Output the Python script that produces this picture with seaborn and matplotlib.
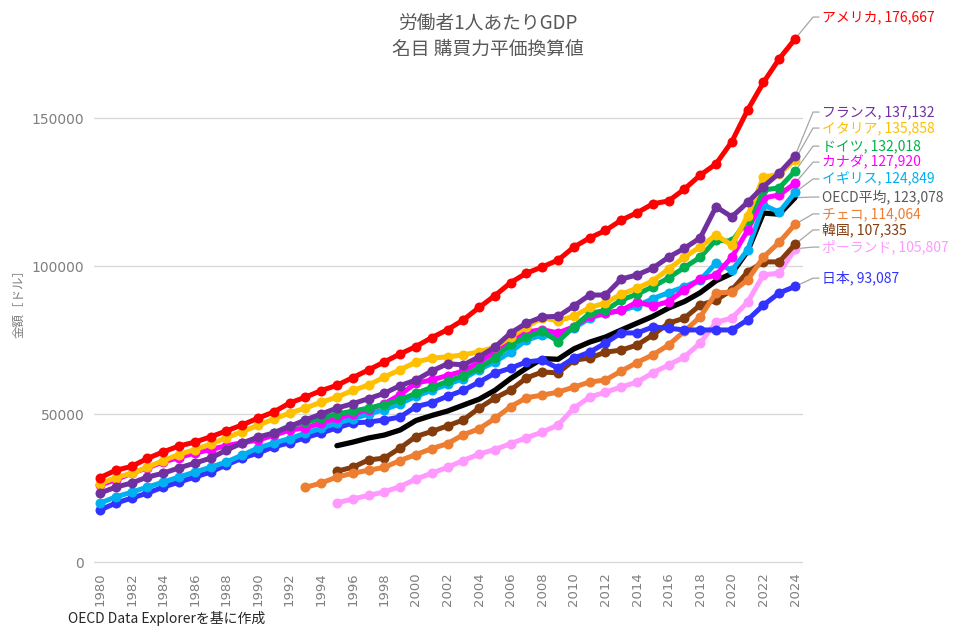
import matplotlib
matplotlib.use("Agg")
import matplotlib.pyplot as plt
import pandas as pd
import seaborn as sns

# ---------------- data ----------------
years_all = list(range(1980, 2025))
years_de = list(range(1991, 2025))
years_cz = list(range(1993, 2025))
years_95 = list(range(1995, 2025))

usa = [28500, 31000, 32300, 35000, 37200, 39200, 40500, 42300, 44300, 46300,
       48600, 50700, 53700, 55700, 57900, 59700, 62300, 64900, 67600, 70300,
       72800, 75800, 78500, 81800, 86000, 90000, 94400, 97600, 99700, 102000,
       106400, 109500, 112000, 115500, 118000, 121000, 122000, 126000, 130700, 134500,
       142000, 152700, 162000, 170000, 176667]
france = [23300, 25300, 26700, 28700, 30000, 31800, 33400, 35100, 37800, 40200,
          42200, 43600, 45800, 48000, 50000, 52000, 53500, 55200, 57000, 59600,
          61500, 64500, 67000, 66600, 69300, 72600, 77400, 80700, 82800, 83000,
          86500, 90200, 90200, 95600, 97000, 99300, 103000, 106000, 109500, 120000,
          116600, 121500, 126800, 131400, 137132]
italy = [26500, 28500, 30000, 32000, 34300, 36300, 38000, 39800, 42000, 44000,
         46200, 48300, 50300, 52000, 54000, 55700, 58000, 59800, 62500, 65000,
         67500, 68900, 69300, 70000, 71000, 72600, 76000, 79500, 82500, 81500,
         83000, 86000, 87500, 90500, 92500, 95000, 99000, 103000, 106500, 110500,
         107000, 117000, 130000, 131000, 135858]
germany = [43600, 46000, 47200, 48600, 50000, 51000, 52000, 53200, 54800, 57000,
           59000, 61000, 63000, 65500, 69000, 73500, 76000, 78000, 74500, 79500,
           84000, 85000, 88500, 90500, 93000, 96000, 99500, 103000, 108800, 108300,
           115500, 125700, 126400, 132018]
canada = [26000, 27800, 30000, 31800, 33800, 35300, 36800, 38000, 39300, 40300,
          41200, 42800, 44600, 45300, 47000, 48500, 50000, 51500, 53500, 56500,
          60500, 61500, 63000, 64500, 67500, 71000, 75000, 77700, 78500, 77400,
          79500, 83000, 84000, 85000, 87800, 86500, 88000, 92000, 95500, 97000,
          103000, 112000, 123000, 124000, 127920]
uk = [19900, 22000, 23600, 25300, 27000, 28700, 30400, 32000, 33800, 36100,
      38500, 40200, 41700, 43500, 45200, 47000, 48300, 50000, 51500, 53500,
      56000, 58000, 60000, 62000, 65000, 67600, 71000, 75000, 76700, 76000,
      79000, 82400, 84000, 85000, 86500, 89000, 91000, 93000, 95300, 101000,
      98600, 105400, 120600, 118200, 124849]
oecd = [39300, 40500, 41900, 42900, 44600, 47800, 49500, 51000, 53000, 55000,
        58000, 62000, 65500, 68700, 68500, 72000, 74300, 76000, 78400, 80700,
        83000, 85800, 88000, 91000, 95000, 97500, 105000, 117900, 117500, 123078]
czech = [25200, 26700, 28700, 30000, 31000, 32000, 34300, 36300, 38300, 40000,
         43000, 45000, 48500, 52500, 55500, 56400, 57400, 59100, 60800, 61500,
         64500, 67400, 70000, 73300, 78000, 82800, 90900, 91200, 95300, 103000,
         108000, 114064]
korea = [30700, 32000, 34500, 35100, 38500, 42400, 44100, 46000, 48000, 52000,
         55400, 58100, 62200, 64200, 63900, 68200, 68900, 70900, 71600, 73300,
         76700, 80700, 82400, 86800, 88500, 91900, 98000, 101400, 101400, 107335]
poland = [20000, 21300, 22500, 23700, 25500, 28000, 30000, 32000, 34300, 36500,
          38000, 40000, 42000, 43900, 46300, 52000, 55700, 57400, 59100, 60800,
          63900, 66600, 69300, 74000, 81000, 82400, 87800, 97000, 97600, 105807]
japan = [17600, 19900, 21600, 23300, 25300, 27000, 28700, 30400, 32800, 35100,
         36800, 38900, 40300, 42000, 43600, 45300, 47000, 47300, 48000, 49000,
         52500, 53800, 56000, 58000, 60800, 63800, 65500, 67600, 68200, 65500,
         68900, 70900, 74000, 77400, 77400, 79400, 79000, 78400, 78400, 78400,
         78400, 81800, 86800, 90900, 93087]

x_ticks = list(range(1980, 2025, 2))
y_ticks = [0, 50000, 100000, 150000]

# name, years, values, color, markers, label text, label y (data), label color
series = [
    ("OECD平均", years_95, oecd, "#000000", False, "OECD平均, 123,078", 123300, "#595959"),
    ("ポーランド", years_95, poland, "#FF99FF", True, "ポーランド, 105,807", 106400, "#FF99FF"),
    ("韓国", years_95, korea, "#843C0C", True, "韓国, 107,335", 112200, "#843C0C"),
    ("チェコ", years_cz, czech, "#ED7D31", True, "チェコ, 114,064", 117600, "#ED7D31"),
    ("日本", years_all, japan, "#3333FF", True, "日本, 93,087", 95900, "#3333FF"),
    ("イギリス", years_all, uk, "#00B0F0", True, "イギリス, 124,849", 129400, "#00B0F0"),
    ("カナダ", years_all, canada, "#FF00FF", True, "カナダ, 127,920", 135100, "#FF00FF"),
    ("ドイツ", years_de, germany, "#00B050", True, "ドイツ, 132,018", 140500, "#00B050"),
    ("イタリア", years_all, italy, "#FFC000", True, "イタリア, 135,858", 146600, "#FFC000"),
    ("フランス", years_all, france, "#7030A0", True, "フランス, 137,132", 152000, "#7030A0"),
    ("アメリカ", years_all, usa, "#FF0000", True, "アメリカ, 176,667", 184100, "#FF0000"),
]

# ---------------- plot ----------------
sns.set_theme(style="white")
plt.rcParams["font.family"] = ["Noto Sans CJK JP", "DejaVu Sans"]

W, H = 975, 636
fig = plt.figure(figsize=(W / 100, H / 100), dpi=100)
ax = fig.add_axes([94 / W, (H - 565) / H, 709 / W, (565 - 29.2) / H])

for name, yrs, vals, col, mk, lab, ly, lcol in series:
    df = pd.DataFrame({"year": yrs, "value": vals})
    if mk:
        sns.lineplot(data=df, x="year", y="value", ax=ax, color=col,
                     linewidth=3.6, marker="o", markersize=7.2,
                     markeredgewidth=0, markeredgecolor=col)
    else:
        sns.lineplot(data=df, x="year", y="value", ax=ax, color=col,
                     linewidth=3.8)
    last = vals[-1]
    ax.plot([yrs[-1], 2025.14, 2025.52], [last, ly, ly], color="#A6A6A6",
            linewidth=0.9, clip_on=False, zorder=1)
    ax.text(2025.68, ly, lab, color=lcol, fontsize=10, va="center", ha="left",
            clip_on=False)

ax.set_xlim(1979.62, 2024.506)
ax.set_ylim(-1000, 180000)
ax.set_xticks(x_ticks)
ax.set_xticklabels([str(y) for y in x_ticks], rotation=90, fontsize=9.5,
                   color="#7F7F7F", family="DejaVu Sans")
ax.set_yticks(y_ticks)
ax.set_yticklabels([str(v) for v in y_ticks], fontsize=10, color="#7F7F7F",
                   family="DejaVu Sans")
ax.tick_params(axis="x", length=0, pad=5)
ax.tick_params(axis="y", length=0, pad=7)
ax.grid(axis="y", color="#D9D9D9", linewidth=1)
ax.grid(axis="x", visible=False)
ax.set_axisbelow(True)
for s in ax.spines.values():
    s.set_visible(False)
ax.set_xlabel("")
ax.set_ylabel("")

fig.text(0.5, 1 - 23 / H, "労働者1人あたりGDP", ha="center", va="center",
         fontsize=13.5, color="#595959")
fig.text(0.5, 1 - 49 / H, "名目 購買力平価換算値", ha="center", va="center",
         fontsize=13.5, color="#595959")
fig.text(19 / W, 1 - 300 / H, "金額［ドル］", rotation=90, ha="center",
         va="center", fontsize=9, color="#7F7F7F")
fig.text(68 / W, 1 - 618 / H, "OECD Data Explorerを基に作成", ha="left",
         va="center", fontsize=10, color="#262626")

fig.savefig("out.png", dpi=100)
